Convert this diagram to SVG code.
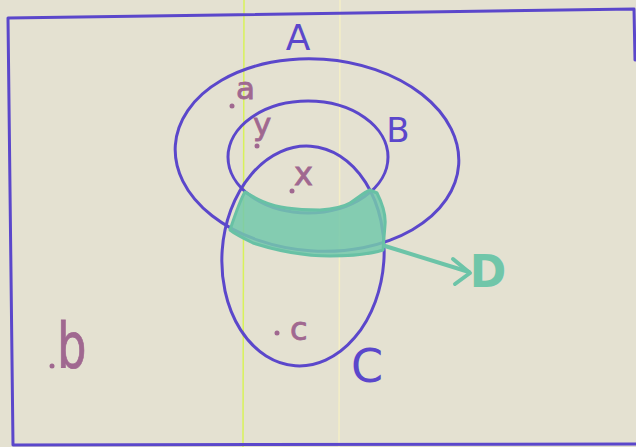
<svg xmlns="http://www.w3.org/2000/svg" width="636" height="447" viewBox="0 0 636 447">
<style>
.pen{fill:none;stroke:#5b47cb;stroke-width:3;stroke-linecap:round;stroke-linejoin:round}
.teal{fill:none;stroke:#6cc4a8;stroke-width:4;stroke-linecap:round;stroke-linejoin:round}
.lbl{font-family:"DejaVu Sans","Liberation Sans",sans-serif;fill:#5b47cb;text-anchor:middle}
.el{font-family:"DejaVu Sans","Liberation Sans",sans-serif;fill:#a06890;stroke:#a06890;stroke-width:0.8}
.dot{fill:#a06890}
</style>
<rect width="636" height="447" fill="#e4e1d1"/>
<line x1="244" y1="0" x2="243" y2="447" stroke="#d8f25a" stroke-width="1.5"/>
<line x1="340" y1="0" x2="339" y2="447" stroke="#f4eec6" stroke-width="1.5"/>
<g id="universe">
<path class="pen" d="M635,60 L634,9 L8,18 L13,445 L636,444"/>
</g>
<g id="setA">
<ellipse class="pen" cx="317" cy="155" rx="142" ry="96" transform="rotate(4 317 155)"/>
<text class="lbl" x="298" y="50" font-size="36">A</text>
</g>
<g id="setB">
<ellipse class="pen" cx="308" cy="157" rx="80" ry="56"/>
<text class="lbl" x="398" y="142" font-size="34">B</text>
</g>
<g id="setC">
<ellipse class="pen" cx="303" cy="256" rx="81" ry="110" transform="rotate(4 303 256)"/>
<text class="lbl" x="367" y="382" font-size="46">C</text>
</g>
<g id="regionD">
<path d="M245,192 C255,198 268,206 287,208 C300,210 312,210 320,210 C333,209 345,206 350,203 C358,198 363,193 370,190 L377,193 C382,203 386,215 385,225 L383,250 C370,254 355,256 330,256 C305,256 275,250 253,243 C243,238 235,234 230,230 C235,215 240,200 245,192 Z" fill="#74c8ab" fill-opacity="0.86" stroke="#68c1a5" stroke-width="3" stroke-linejoin="round"/>
<text x="488" y="287" font-size="44" font-family="DejaVu Sans,Liberation Sans,sans-serif" fill="#70c6a9" font-weight="bold" text-anchor="middle">D</text>
</g>
<g id="connectors">
<line class="teal" x1="385" y1="246" x2="469" y2="272"/>
<polyline class="teal" points="453,259 470,273 455,284"/>
</g>
<g id="elements">
<g id="elem-a"><circle class="dot" cx="232" cy="106" r="2.5"/><text class="el" x="236" y="99" font-size="31">a</text></g>
<g id="elem-y"><circle class="dot" cx="257" cy="146" r="2.5"/><text class="el" x="253" y="135" font-size="31">y</text></g>
<g id="elem-x"><circle class="dot" cx="292" cy="191" r="2.5"/><text class="el" x="294" y="185" font-size="32">x</text></g>
<g id="elem-c"><circle class="dot" cx="277" cy="333" r="2.5"/><text class="el" x="290" y="340" font-size="32">c</text></g>
<g id="elem-b"><circle class="dot" cx="52" cy="366" r="2.5"/><text class="el" transform="translate(57 367) scale(0.75 1)" x="0" y="0" font-size="62">b</text></g>
</g>
</svg>
